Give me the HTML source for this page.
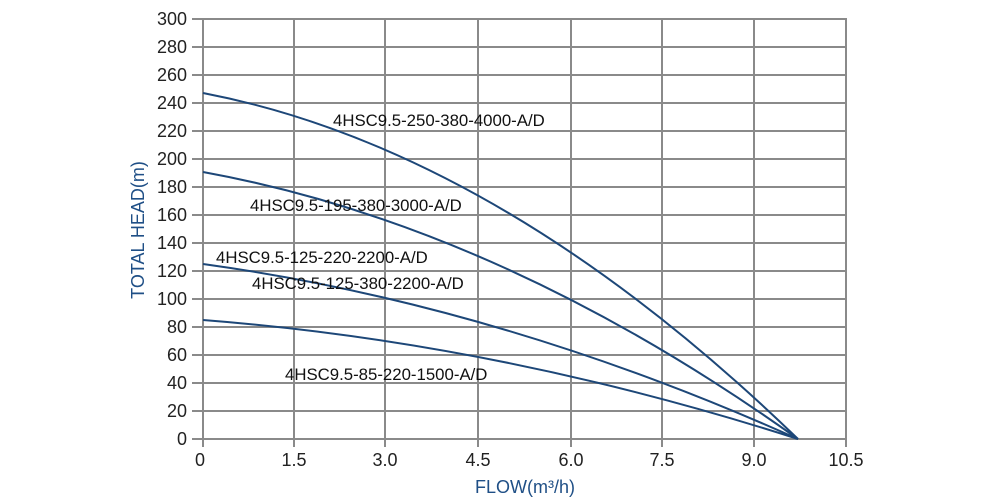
<!DOCTYPE html>
<html><head><meta charset="utf-8"><style>
body{margin:0;background:#fff;}
svg{display:block;font-family:"Liberation Sans",sans-serif;}
</style></head><body>
<svg width="1000" height="500" viewBox="0 0 1000 500">
<g stroke="#8a8a8a" stroke-width="2">
<line x1="192" y1="19" x2="847" y2="19"/><line x1="192" y1="47" x2="847" y2="47"/><line x1="192" y1="75" x2="847" y2="75"/><line x1="192" y1="103" x2="847" y2="103"/><line x1="192" y1="131" x2="847" y2="131"/><line x1="192" y1="159" x2="847" y2="159"/><line x1="192" y1="187" x2="847" y2="187"/><line x1="192" y1="215" x2="847" y2="215"/><line x1="192" y1="243" x2="847" y2="243"/><line x1="192" y1="271" x2="847" y2="271"/><line x1="192" y1="299" x2="847" y2="299"/><line x1="192" y1="327" x2="847" y2="327"/><line x1="192" y1="355" x2="847" y2="355"/><line x1="192" y1="383" x2="847" y2="383"/><line x1="192" y1="411" x2="847" y2="411"/><line x1="192" y1="439" x2="847" y2="439"/>
<line x1="203" y1="19" x2="203" y2="447"/><line x1="294" y1="19" x2="294" y2="447"/><line x1="385" y1="19" x2="385" y2="447"/><line x1="478" y1="19" x2="478" y2="447"/><line x1="571" y1="19" x2="571" y2="447"/><line x1="662" y1="19" x2="662" y2="447"/><line x1="754" y1="19" x2="754" y2="447"/><line x1="846" y1="19" x2="846" y2="447"/>
</g>
<g fill="#222" font-size="18" text-anchor="end">
<text x="187" y="25">300</text><text x="187" y="53">280</text><text x="187" y="81">260</text><text x="187" y="109">240</text><text x="187" y="137">220</text><text x="187" y="165">200</text><text x="187" y="193">180</text><text x="187" y="221">160</text><text x="187" y="249">140</text><text x="187" y="277">120</text><text x="187" y="305">100</text><text x="187" y="333">80</text><text x="187" y="361">60</text><text x="187" y="389">40</text><text x="187" y="417">20</text><text x="187" y="445">0</text>
</g>
<g fill="#222" font-size="18" text-anchor="middle">
<text x="200" y="466">0</text><text x="294" y="466">1.5</text><text x="385" y="466">3.0</text><text x="478" y="466">4.5</text><text x="571" y="466">6.0</text><text x="662" y="466">7.5</text><text x="754" y="466">9.0</text><text x="846" y="466">10.5</text>
</g>
<text x="525" y="493" fill="#1f4f86" font-size="18" text-anchor="middle">FLOW(m³/h)</text>
<text transform="translate(144,230) rotate(-90)" fill="#1f4f86" font-size="18" text-anchor="middle">TOTAL HEAD(m)</text>
<g fill="none" stroke="#1d4778" stroke-width="2">
<path d="M203 93 Q499.5 150 798 439"/>
<path d="M203 172 Q499.5 226 798 439"/>
<path d="M203 264 Q499.5 305 798 439"/>
<path d="M203 320 Q499.5 343 798 439"/>
</g>
<g fill="#111" font-size="16.8">
<text x="333" y="126">4HSC9.5-250-380-4000-A/D</text>
<text x="250" y="211">4HSC9.5-195-380-3000-A/D</text>
<text x="216" y="263">4HSC9.5-125-220-2200-A/D</text>
<text x="252" y="289">4HSC9.5-125-380-2200-A/D</text>
<text x="285" y="380">4HSC9.5-85-220-1500-A/D</text>
</g>
</svg>
</body></html>
